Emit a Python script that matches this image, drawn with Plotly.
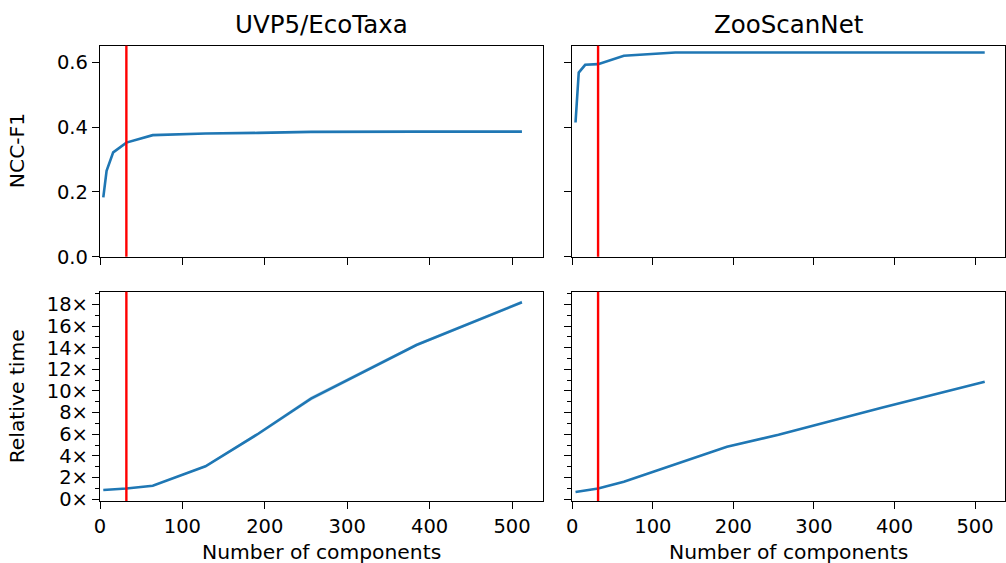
import plotly.graph_objects as go

# ---- data ----
n_components = [4, 8, 16, 32, 64, 128, 192, 256, 384, 512]
uvp_f1 = [0.183, 0.265, 0.322, 0.352, 0.375, 0.380, 0.382, 0.385, 0.386, 0.386]
zoo_f1 = [0.414, 0.568, 0.592, 0.594, 0.620, 0.630, 0.630, 0.630, 0.630, 0.630]
uvp_time = [0.86, 0.88, 0.93, 1.0, 1.25, 3.05, 6.05, 9.3, 14.25, 18.2]
uvp_time_lo = [0.83, 0.85, 0.90, 0.97, 1.20, 2.95, 5.90, 9.1, 14.10, 18.05]
uvp_time_hi = [0.89, 0.91, 0.96, 1.03, 1.30, 3.15, 6.20, 9.5, 14.40, 18.35]
zoo_time = [0.67, 0.72, 0.82, 1.0, 1.62, 3.2, 4.85, 5.95, 8.45, 10.85]
chosen_k = 32
titles = ["UVP5/EcoTaxa", "ZooScanNet"]
f1_ticks = [0.0, 0.2, 0.4, 0.6]
time_ticks = [0, 2, 4, 6, 8, 10, 12, 14, 16, 18]
time_ticklabels = [f"{t}×" for t in time_ticks]
x_ticks = [0, 100, 200, 300, 400, 500]

W, H = 1006, 563
BLUE = "#1f77b4"
FONT = "DejaVu Sans"
TICK_SIZE = 19.5
LABEL_SIZE = 20.3
TITLE_SIZE = 24.5

# panel pixel boxes
lx0, lx1 = 100, 543
rx0, rx1 = 572.3, 1005.3
ty0, ty1 = 45.7, 256.7
by0, by1 = 291.7, 501.0


def px(v):
    return v / W


def py(v):
    return 1 - v / H


fig = go.Figure()

# top left
fig.add_trace(go.Scatter(x=n_components, y=uvp_f1, mode="lines",
                         line=dict(color=BLUE, width=2.6), xaxis="x", yaxis="y", showlegend=False))
# top right
fig.add_trace(go.Scatter(x=n_components, y=zoo_f1, mode="lines",
                         line=dict(color=BLUE, width=2.6), xaxis="x2", yaxis="y2", showlegend=False))
# bottom left band + line
fig.add_trace(go.Scatter(x=n_components + n_components[::-1], y=uvp_time_hi + uvp_time_lo[::-1],
                         fill="toself", fillcolor="rgba(31,119,180,0.2)", line=dict(width=0),
                         mode="lines", xaxis="x3", yaxis="y3", showlegend=False, hoverinfo="skip"))
fig.add_trace(go.Scatter(x=n_components, y=uvp_time, mode="lines",
                         line=dict(color=BLUE, width=2.6), xaxis="x3", yaxis="y3", showlegend=False))
# bottom right
fig.add_trace(go.Scatter(x=n_components, y=zoo_time, mode="lines",
                         line=dict(color=BLUE, width=2.6), xaxis="x4", yaxis="y4", showlegend=False))

axis_common = dict(showline=True, linecolor="black", linewidth=1.3, mirror=True,
                   ticks="outside", ticklen=7, tickwidth=1.3, tickcolor="black",
                   showgrid=False, zeroline=False, automargin=False,
                   tickfont=dict(family=FONT, size=TICK_SIZE, color="black"))

xdom_l = [px(lx0), px(lx1)]
xdom_r = [px(rx0), px(rx1)]
ydom_t = [py(ty1), py(ty0)]
ydom_b = [py(by1), py(by0)]

layout = dict(
    width=W, height=H,
    margin=dict(l=0, r=0, t=0, b=0),
    paper_bgcolor="white", plot_bgcolor="white",
    xaxis=dict(domain=xdom_l, anchor="y", range=[0, 537.55], tickvals=x_ticks,
               showticklabels=False, **axis_common),
    yaxis=dict(domain=ydom_t, anchor="x", range=[0, 0.651], tickvals=f1_ticks,
               tickformat=".1f", **axis_common),
    xaxis2=dict(domain=xdom_r, anchor="y2", range=[0, 537.55], tickvals=x_ticks,
                showticklabels=False, **axis_common),
    yaxis2=dict(domain=ydom_t, anchor="x2", range=[0, 0.651], tickvals=f1_ticks,
                showticklabels=False, **axis_common),
    xaxis3=dict(domain=xdom_l, anchor="y3", range=[0, 537.55], tickvals=x_ticks, **axis_common),
    yaxis3=dict(domain=ydom_b, anchor="x3", range=[-0.16, 19.17], tickvals=time_ticks,
                ticktext=time_ticklabels,
                minor=dict(dtick=1, tick0=0, ticks="outside", ticklen=4, tickwidth=1.1, tickcolor="black"),
                **axis_common),
    xaxis4=dict(domain=xdom_r, anchor="y4", range=[0, 537.55], tickvals=x_ticks, **axis_common),
    yaxis4=dict(domain=ydom_b, anchor="x4", range=[-0.16, 19.17], tickvals=time_ticks,
                showticklabels=False,
                minor=dict(dtick=1, tick0=0, ticks="outside", ticklen=4, tickwidth=1.1, tickcolor="black"),
                **axis_common),
)
fig.update_layout(**layout)

# red vertical lines at chosen number of components
for xr, yr in [("x", "y"), ("x2", "y2"), ("x3", "y3"), ("x4", "y4")]:
    fig.add_shape(type="line", x0=chosen_k, x1=chosen_k, y0=0, y1=1,
                  xref=xr, yref=f"{yr} domain", line=dict(color="red", width=2.4))

# titles
for title, cx in zip(titles, [(lx0 + lx1) / 2, (rx0 + rx1) / 2]):
    fig.add_annotation(text=title, x=px(cx), y=py(24), xref="paper", yref="paper",
                       xanchor="center", yanchor="middle", showarrow=False,
                       font=dict(family=FONT, size=TITLE_SIZE, color="black"))

# x axis labels
for cx in [(lx0 + lx1) / 2, (rx0 + rx1) / 2]:
    fig.add_annotation(text="Number of components", x=px(cx), y=py(552), xref="paper", yref="paper",
                       xanchor="center", yanchor="middle", showarrow=False,
                       font=dict(family=FONT, size=LABEL_SIZE, color="black"))

# y axis labels
fig.add_annotation(text="NCC-F1", x=px(17), y=py((ty0 + ty1) / 2), xref="paper", yref="paper",
                   xanchor="center", yanchor="middle", showarrow=False, textangle=-90,
                   font=dict(family=FONT, size=LABEL_SIZE, color="black"))
fig.add_annotation(text="Relative time", x=px(17), y=py((by0 + by1) / 2), xref="paper", yref="paper",
                   xanchor="center", yanchor="middle", showarrow=False, textangle=-90,
                   font=dict(family=FONT, size=LABEL_SIZE, color="black"))

fig.write_html(
    "out.html",
    config={"displayModeBar": False},
    post_script="document.body.style.margin='0';document.body.style.overflow='hidden';",
)
